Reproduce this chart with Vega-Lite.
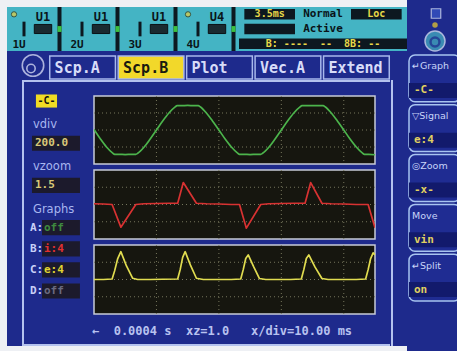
{
  "$schema": "https://vega.github.io/schema/vega-lite/v6.json",
  "background": "#1e2a8c",
  "padding": 0,
  "spacing": 0,
  "config": {"view": {"stroke": null}, "text": {"font": "DejaVu Sans"}, "concat": {"spacing": 0}},
  "datasets": {
    "gx": [{"t":10},{"t":20},{"t":30},{"t":40}],
    "gy": [{"v":-0.7},{"v":0},{"v":0.7}],
    "green": [
      {"t":0,"v":0.02},{"t":1,"v":-0.36},{"t":2,"v":-0.7},{"t":3,"v":-0.95},{"t":3.3,"v":-1.0},{"t":4,"v":-1.0},{"t":5,"v":-1.01},{"t":6,"v":-1.0},{"t":6.7,"v":-1.0},{"t":7,"v":-0.96},{"t":8,"v":-0.71},{"t":9,"v":-0.37},
      {"t":10,"v":0.0},{"t":11,"v":0.37},{"t":12,"v":0.7},{"t":13,"v":0.95},{"t":13.3,"v":1.0},{"t":14,"v":1.0},{"t":15,"v":1.01},{"t":16,"v":1.0},{"t":16.7,"v":1.0},{"t":17,"v":0.96},{"t":18,"v":0.7},{"t":19,"v":0.36},
      {"t":20,"v":0.0},{"t":21,"v":-0.37},{"t":22,"v":-0.7},{"t":23,"v":-0.95},{"t":23.3,"v":-1.0},{"t":24,"v":-1.0},{"t":25,"v":-1.01},{"t":26,"v":-1.0},{"t":26.7,"v":-1.0},{"t":27,"v":-0.96},{"t":28,"v":-0.71},{"t":29,"v":-0.37},
      {"t":30,"v":0.0},{"t":31,"v":0.37},{"t":32,"v":0.7},{"t":33,"v":0.95},{"t":33.3,"v":1.0},{"t":34,"v":1.0},{"t":35,"v":1.0},{"t":36,"v":1.0},{"t":36.7,"v":1.0},{"t":37,"v":0.96},{"t":38,"v":0.7},{"t":39,"v":0.36},
      {"t":40,"v":0.0},{"t":41,"v":-0.37},{"t":42,"v":-0.7},{"t":43,"v":-0.95},{"t":43.3,"v":-1.0},{"t":44,"v":-1.0},{"t":45,"v":-1.02}
    ],
    "red": [
      {"t":0,"v":0.03},{"t":1.5,"v":0.02},{"t":2.9,"v":0.0},{"t":4.3,"v":-0.92},{"t":6.7,"v":0.0},{"t":8,"v":0.03},{"t":10,"v":0.04},{"t":12,"v":0.05},{"t":13.4,"v":0.05},{"t":14.3,"v":0.89},{"t":16.4,"v":0.05},{"t":18,"v":0.03},{"t":20,"v":0.02},{"t":22,"v":0.0},
      {"t":23.3,"v":0.0},{"t":24.4,"v":-0.96},{"t":26.7,"v":0.0},{"t":28,"v":0.03},{"t":30,"v":0.04},{"t":32,"v":0.05},{"t":33.8,"v":0.05},{"t":34.7,"v":0.89},{"t":36.5,"v":0.05},{"t":38,"v":0.03},{"t":40,"v":0.02},{"t":42,"v":0.0},{"t":43.9,"v":0.0},{"t":45,"v":-0.94}
    ],
    "yellow": [
      {"t":0,"v":0.0},{"t":1.5,"v":0.0},{"t":2.9,"v":0.02},{"t":3.3,"v":0.35},{"t":3.8,"v":0.85},{"t":4.3,"v":1.13},{"t":5.2,"v":0.55},{"t":6.2,"v":0.05},{"t":7,"v":0.0},{"t":9,"v":0.0},{"t":11,"v":0.01},
      {"t":13.4,"v":0.02},{"t":13.8,"v":0.4},{"t":14.2,"v":0.9},{"t":14.6,"v":1.13},{"t":15.5,"v":0.55},{"t":16.4,"v":0.05},{"t":17.5,"v":0.0},{"t":20,"v":0.0},{"t":22,"v":0.0},
      {"t":23.5,"v":0.02},{"t":23.9,"v":0.4},{"t":24.3,"v":0.85},{"t":24.7,"v":1.0},{"t":25.6,"v":0.5},{"t":26.5,"v":0.04},{"t":27.5,"v":0.0},{"t":30,"v":0.0},{"t":31.5,"v":0.0},
      {"t":33.2,"v":0.02},{"t":33.6,"v":0.4},{"t":34.0,"v":0.85},{"t":34.4,"v":1.0},{"t":35.4,"v":0.5},{"t":36.5,"v":0.04},{"t":37.5,"v":0.0},{"t":40,"v":0.0},{"t":42,"v":0.0},
      {"t":43.5,"v":0.02},{"t":43.9,"v":0.4},{"t":44.3,"v":0.85},{"t":44.7,"v":1.08},{"t":45,"v":1.0}
    ]
  },
  "hconcat": [
    {"width": 7, "height": 351, "data": {"values": [{}]}, "mark": {"type": "point", "size": 0, "strokeWidth": 0, "opacity": 0}, "encoding": {}, "view": {"fill": "#eef0f4"}},
    {
      "vconcat": [
        {"width": 400, "height": 7, "data": {"values": [{}]}, "mark": {"type": "point", "size": 0, "strokeWidth": 0, "opacity": 0}, "encoding": {}, "view": {"fill": "#eef0f4"}},
        {
          "hconcat": [
            {
              "width": 232, "height": 44, "view": {"fill": "#44b4c4"},
              "data": {"values": [{"ch":"1","label":"U1","num":"1U"},{"ch":"2","label":"U1","num":"2U"},{"ch":"3","label":"U1","num":"3U"},{"ch":"4","label":"U4","num":"4U"}]},
              "encoding": {"x": {"field": "ch", "type": "nominal", "scale": {"domain": ["1","2","3","4"], "paddingInner": 0, "paddingOuter": 0}, "axis": null}},
              "layer": [
                {"mark": {"type": "bar", "width": 4, "xOffset": 23.5, "color": "#0d1820"}},
                {"mark": {"type": "bar", "width": 4, "xOffset": 23.5, "height": {"band": 0.4}, "color": "#3cc040"},
                 "encoding": {"y": {"datum": "mid", "type": "nominal", "scale": {"domain": ["top","mid","bot"], "paddingInner": 0, "paddingOuter": 0}, "axis": null}}},
                {"mark": {"type": "bar", "width": 3, "xOffset": -12, "height": {"band": 1}, "color": "#0d1820"},
                 "encoding": {"y": {"datum": "mid", "type": "nominal", "scale": {"domain": ["top","mid","bot"], "paddingInner": 0, "paddingOuter": 0}, "axis": null}}},
                {"mark": {"type": "bar", "width": {"band": 0.3}, "xOffset": 7, "height": {"band": 0.62}, "color": "#1a2a30", "stroke": "#0a1216"},
                 "encoding": {"y": {"datum": "mid", "type": "nominal", "scale": {"domain": ["top","mid","bot"], "paddingInner": 0, "paddingOuter": 0}, "axis": null}}},
                {"mark": {"type": "text", "dx": 7, "dy": 3, "font": "DejaVu Sans Mono", "fontWeight": "bold", "fontSize": 12, "color": "#0a1418"},
                 "encoding": {"text": {"field": "label"}, "y": {"datum": "top", "type": "nominal", "scale": {"domain": ["top","mid","bot"], "paddingInner": 0, "paddingOuter": 0}, "axis": null}}},
                {"mark": {"type": "text", "dx": -17, "dy": 1, "font": "DejaVu Sans Mono", "fontWeight": "bold", "fontSize": 11, "color": "#0a1418"},
                 "encoding": {"text": {"field": "num"}, "y": {"datum": "bot", "type": "nominal", "scale": {"domain": ["top","mid","bot"], "paddingInner": 0, "paddingOuter": 0}, "axis": null}}},
                {"transform": [{"filter": "datum.ch === '1' || datum.ch === '4'"}],
                 "mark": {"type": "point", "shape": "circle", "filled": true, "size": 28, "xOffset": -22, "color": "#e8d040", "stroke": "#303010", "strokeWidth": 1},
                 "encoding": {"y": {"datum": "top", "type": "nominal", "scale": {"domain": ["top","mid","bot"], "paddingInner": 0, "paddingOuter": 0}, "axis": null}}}
              ]
            },
            {
              "width": 168, "height": 44, "view": {"fill": "#44b4c4"},
              "layer": [
                {"data": {"values": [{"slot":"a","row":"top"},{"slot":"a","row":"mid"},{"slot":"c","row":"top"}]},
                 "mark": {"type": "bar", "height": {"band": 0.72}, "color": "#0d1820"},
                 "encoding": {"x": {"field": "slot", "type": "nominal", "scale": {"domain": ["a","b","c"], "paddingInner": 0.05, "paddingOuter": 0.1}, "axis": null},
                              "y": {"field": "row", "type": "nominal", "scale": {"domain": ["top","mid","bot"], "paddingInner": 0, "paddingOuter": 0}, "axis": null}}},
                {"data": {"values": [{"row":"bot"}]},
                 "mark": {"type": "bar", "height": {"band": 0.72}, "color": "#0d1820"},
                 "encoding": {"y": {"field": "row", "type": "nominal", "scale": {"domain": ["top","mid","bot"], "paddingInner": 0, "paddingOuter": 0}, "axis": null}}},
                {"data": {"values": [{"slot":"a","row":"top","text":"3.5ms"},{"slot":"c","row":"top","text":"Loc"}]},
                 "mark": {"type": "text", "font": "DejaVu Sans Mono", "fontWeight": "bold", "fontSize": 10, "color": "#e8d848"},
                 "encoding": {"text": {"field": "text"},
                              "x": {"field": "slot", "type": "nominal", "scale": {"domain": ["a","b","c"], "paddingInner": 0.05, "paddingOuter": 0.1}, "axis": null},
                              "y": {"field": "row", "type": "nominal", "scale": {"domain": ["top","mid","bot"], "paddingInner": 0, "paddingOuter": 0}, "axis": null}}},
                {"data": {"values": [{"slot":"b","row":"top","text":"Normal"},{"slot":"b","row":"mid","text":"Active"}]},
                 "mark": {"type": "text", "font": "DejaVu Sans Mono", "fontWeight": "bold", "fontSize": 11, "color": "#0a1418"},
                 "encoding": {"text": {"field": "text"},
                              "x": {"field": "slot", "type": "nominal", "scale": {"domain": ["a","b","c"], "paddingInner": 0.05, "paddingOuter": 0.1}, "axis": null},
                              "y": {"field": "row", "type": "nominal", "scale": {"domain": ["top","mid","bot"], "paddingInner": 0, "paddingOuter": 0}, "axis": null}}},
                {"data": {"values": [{"row":"bot","text":"B: ----\u00a0\u00a0--\u00a0\u00a08B: --"}]},
                 "mark": {"type": "text", "font": "DejaVu Sans Mono", "fontWeight": "bold", "fontSize": 10, "color": "#e8d848"},
                 "encoding": {"text": {"field": "text"},
                              "y": {"field": "row", "type": "nominal", "scale": {"domain": ["top","mid","bot"], "paddingInner": 0, "paddingOuter": 0}, "axis": null}}}
              ]
            }
          ],
          "spacing": 0
        },
        {
          "hconcat": [
            {"width": 40, "height": 29, "data": {"values": [{}]},
             "layer": [
               {"mark": {"type": "point", "shape": "circle", "size": 460, "filled": false, "stroke": "#e8ecff", "strokeWidth": 1.6, "xOffset": 6}, "encoding": {}},
               {"mark": {"type": "point", "shape": "circle", "size": 70, "filled": false, "stroke": "#e8ecff", "strokeWidth": 1.6, "xOffset": 4, "yOffset": 3}, "encoding": {}}
             ]},
            {
              "vconcat": [
                {"width": 345, "height": 4, "data": {"values": [{}]}, "mark": {"type": "point", "size": 0, "strokeWidth": 0, "opacity": 0}, "encoding": {}},
                {
                  "width": 345, "height": 25,
                  "data": {"values": [{"tab":"Scp.A"},{"tab":"Scp.B"},{"tab":"Plot"},{"tab":"Vec.A"},{"tab":"Extend"}]},
                  "encoding": {"x": {"field": "tab", "type": "nominal", "sort": null, "scale": {"domain": ["Scp.A","Scp.B","Plot","Vec.A","Extend"], "paddingInner": 0.04, "paddingOuter": 0.04}, "axis": null},
                               "y": {"datum": "tab", "type": "nominal", "scale": {"domain": ["tab"], "paddingInner": 0, "paddingOuter": 0.04}, "axis": null}},
                  "layer": [
                    {"mark": {"type": "bar", "stroke": "#a8b8ec", "strokeWidth": 1.5},
                     "encoding": {"color": {"condition": {"test": "datum.tab === 'Scp.B'", "value": "#f2d82a"}, "value": "#1e2a8c"}}},
                    {"mark": {"type": "text", "align": "left", "dx": -28, "font": "DejaVu Sans Mono", "fontWeight": "bold", "fontSize": 15},
                     "encoding": {"text": {"field": "tab"}, "color": {"condition": {"test": "datum.tab === 'Scp.B'", "value": "#1a1a10"}, "value": "#d8dcf8"}}}
                  ]
                }
              ],
              "spacing": 0
            },
            {"width": 15, "height": 29, "data": {"values": [{}]}, "mark": {"type": "point", "size": 0, "strokeWidth": 0, "opacity": 0}, "encoding": {}}
          ],
          "spacing": 0
        },
        {
          "hconcat": [
            {"width": 15, "height": 266, "data": {"values": [{}]}, "mark": {"type": "point", "size": 0, "strokeWidth": 0, "opacity": 0}, "encoding": {}},
            {"width": 2, "height": 266, "data": {"values": [{}]}, "mark": {"type": "point", "size": 0, "strokeWidth": 0, "opacity": 0}, "encoding": {}, "view": {"fill": "#b4c2ee"}},
            {
              "vconcat": [
                {"width": 366, "height": 2, "data": {"values": [{}]}, "mark": {"type": "point", "size": 0, "strokeWidth": 0, "opacity": 0}, "encoding": {}, "view": {"fill": "#b4c2ee"}},
                {
                  "hconcat": [
                    {
                      "width": 69, "height": 236,
                      "layer": [
                        {"data": {"values": [{"row":"r0","text":"-C-"}]},
                         "mark": {"type": "bar", "width": {"band": 0.44}, "height": {"band": 0.62}, "xOffset": -9.5, "color": "#f0dc24"},
                         "encoding": {"x": {"datum": "main", "type": "nominal", "scale": {"domain": ["main"], "paddingInner": 0, "paddingOuter": 0.219, "align": 0.38}, "axis": null},
                                      "y": {"field": "row", "type": "nominal", "scale": {"domain": ["r0","r1","r2","r3","r4","r5","r6","r7","r8","r9"], "paddingInner": 0, "paddingOuter": 0.59, "align": 0.34}, "axis": null}}},
                        {"data": {"values": [{"row":"r0","text":"-C-"}]},
                         "mark": {"type": "text", "dx": -9.5, "font": "DejaVu Sans Mono", "fontWeight": "bold", "fontSize": 10, "color": "#101010"},
                         "encoding": {"text": {"field": "text"},
                                      "x": {"datum": "main", "type": "nominal", "scale": {"domain": ["main"], "paddingInner": 0, "paddingOuter": 0.219, "align": 0.38}, "axis": null},
                                      "y": {"field": "row", "type": "nominal", "scale": {"domain": ["r0","r1","r2","r3","r4","r5","r6","r7","r8","r9"], "paddingInner": 0, "paddingOuter": 0.59, "align": 0.34}, "axis": null}}},
                        {"data": {"values": [{"row":"r1","text":"vdiv"},{"row":"r3","text":"vzoom"},{"row":"r5","text":"Graphs"}]},
                         "mark": {"type": "text", "align": "left", "dx": -23, "dy": 3, "fontSize": 11.5, "color": "#a8b6f0"},
                         "encoding": {"text": {"field": "text"},
                                      "x": {"datum": "main", "type": "nominal", "scale": {"domain": ["main"], "paddingInner": 0, "paddingOuter": 0.219, "align": 0.38}, "axis": null},
                                      "y": {"field": "row", "type": "nominal", "scale": {"domain": ["r0","r1","r2","r3","r4","r5","r6","r7","r8","r9"], "paddingInner": 0, "paddingOuter": 0.59, "align": 0.34}, "axis": null}}},
                        {"data": {"values": [{"row":"r2","text":"200.0"},{"row":"r4","text":"1.5"}]},
                         "mark": {"type": "bar", "height": {"band": 0.72}, "color": "#1c1a2c"},
                         "encoding": {"x": {"datum": "main", "type": "nominal", "scale": {"domain": ["main"], "paddingInner": 0, "paddingOuter": 0.219, "align": 0.38}, "axis": null},
                                      "y": {"field": "row", "type": "nominal", "scale": {"domain": ["r0","r1","r2","r3","r4","r5","r6","r7","r8","r9"], "paddingInner": 0, "paddingOuter": 0.59, "align": 0.34}, "axis": null}}},
                        {"data": {"values": [{"row":"r2","text":"200.0"},{"row":"r4","text":"1.5"}]},
                         "mark": {"type": "text", "align": "left", "dx": -21, "font": "DejaVu Sans Mono", "fontWeight": "bold", "fontSize": 11, "color": "#d8c878"},
                         "encoding": {"text": {"field": "text"},
                                      "x": {"datum": "main", "type": "nominal", "scale": {"domain": ["main"], "paddingInner": 0, "paddingOuter": 0.219, "align": 0.38}, "axis": null},
                                      "y": {"field": "row", "type": "nominal", "scale": {"domain": ["r0","r1","r2","r3","r4","r5","r6","r7","r8","r9"], "paddingInner": 0, "paddingOuter": 0.59, "align": 0.34}, "axis": null}}},
                        {"data": {"values": [{"row":"r6","key":"A:","val":"off","ch":"A"},{"row":"r7","key":"B:","val":"i:4","ch":"B"},{"row":"r8","key":"C:","val":"e:4","ch":"C"},{"row":"r9","key":"D:","val":"off","ch":"D"}]},
                         "mark": {"type": "bar", "width": {"band": 0.79}, "height": {"band": 0.72}, "xOffset": 5, "color": "#1c1a2c"},
                         "encoding": {"x": {"datum": "main", "type": "nominal", "scale": {"domain": ["main"], "paddingInner": 0, "paddingOuter": 0.219, "align": 0.38}, "axis": null},
                                      "y": {"field": "row", "type": "nominal", "scale": {"domain": ["r0","r1","r2","r3","r4","r5","r6","r7","r8","r9"], "paddingInner": 0, "paddingOuter": 0.59, "align": 0.34}, "axis": null}}},
                        {"data": {"values": [{"row":"r6","key":"A:","val":"off","ch":"A"},{"row":"r7","key":"B:","val":"i:4","ch":"B"},{"row":"r8","key":"C:","val":"e:4","ch":"C"},{"row":"r9","key":"D:","val":"off","ch":"D"}]},
                         "mark": {"type": "text", "align": "left", "dx": -26, "font": "DejaVu Sans Mono", "fontWeight": "bold", "fontSize": 11, "color": "#c8d0f8"},
                         "encoding": {"text": {"field": "key"},
                                      "x": {"datum": "main", "type": "nominal", "scale": {"domain": ["main"], "paddingInner": 0, "paddingOuter": 0.219, "align": 0.38}, "axis": null},
                                      "y": {"field": "row", "type": "nominal", "scale": {"domain": ["r0","r1","r2","r3","r4","r5","r6","r7","r8","r9"], "paddingInner": 0, "paddingOuter": 0.59, "align": 0.34}, "axis": null}}},
                        {"data": {"values": [{"row":"r6","key":"A:","val":"off","ch":"A"},{"row":"r7","key":"B:","val":"i:4","ch":"B"},{"row":"r8","key":"C:","val":"e:4","ch":"C"},{"row":"r9","key":"D:","val":"off","ch":"D"}]},
                         "mark": {"type": "text", "align": "left", "dx": -12, "font": "DejaVu Sans Mono", "fontWeight": "bold", "fontSize": 11},
                         "encoding": {"text": {"field": "val"},
                                      "color": {"field": "ch", "type": "nominal", "scale": {"domain": ["A","B","C","D"], "range": ["#3f8a3f","#e03030","#e0d430","#6a6a80"]}, "legend": null},
                                      "x": {"datum": "main", "type": "nominal", "scale": {"domain": ["main"], "paddingInner": 0, "paddingOuter": 0.219, "align": 0.38}, "axis": null},
                                      "y": {"field": "row", "type": "nominal", "scale": {"domain": ["r0","r1","r2","r3","r4","r5","r6","r7","r8","r9"], "paddingInner": 0, "paddingOuter": 0.59, "align": 0.34}, "axis": null}}}
                      ]
                    },
                    {
                      "vconcat": [
                        {"width": 284, "height": 9, "data": {"values": [{}]}, "mark": {"type": "point", "size": 0, "strokeWidth": 0, "opacity": 0}, "encoding": {}},
                        {
                          "width": 281, "height": 68,
                          "view": {"fill": "#16160f", "stroke": "#c8ccd8", "strokeWidth": 1.5},
                          "layer": [
                            {"data": {"name": "gx"}, "mark": {"type": "rule", "color": "#76765c", "strokeDash": [1, 3], "clip": true},
                             "encoding": {"x": {"field": "t", "type": "quantitative", "scale": {"domain": [0, 45], "nice": false, "zero": false}, "axis": null}}},
                            {"data": {"name": "gy"}, "mark": {"type": "rule", "color": "#76765c", "strokeDash": [1, 3], "clip": true},
                             "encoding": {"y": {"field": "v", "type": "quantitative", "scale": {"domain": [-1.4, 1.4], "nice": false}, "axis": null}}},
                            {"data": {"name": "green"}, "mark": {"type": "line", "color": "#4cb44c", "strokeWidth": 1.7, "interpolate": "monotone", "strokeJoin": "round", "clip": true},
                             "encoding": {"x": {"field": "t", "type": "quantitative", "axis": null}, "y": {"field": "v", "type": "quantitative", "axis": null}}}
                          ]
                        },
                        {
                          "width": 281, "height": 69,
                          "view": {"fill": "#16160f", "stroke": "#c8ccd8", "strokeWidth": 1.5},
                          "layer": [
                            {"data": {"name": "gx"}, "mark": {"type": "rule", "color": "#76765c", "strokeDash": [1, 3], "clip": true},
                             "encoding": {"x": {"field": "t", "type": "quantitative", "scale": {"domain": [0, 45], "nice": false, "zero": false}, "axis": null}}},
                            {"data": {"name": "gy"}, "mark": {"type": "rule", "color": "#76765c", "strokeDash": [1, 3], "clip": true},
                             "encoding": {"y": {"field": "v", "type": "quantitative", "scale": {"domain": [-1.4, 1.4], "nice": false}, "axis": null}}},
                            {"data": {"name": "red"}, "mark": {"type": "line", "color": "#d83232", "strokeWidth": 1.7, "strokeJoin": "round", "clip": true},
                             "encoding": {"x": {"field": "t", "type": "quantitative", "axis": null}, "y": {"field": "v", "type": "quantitative", "axis": null}}}
                          ]
                        },
                        {
                          "width": 281, "height": 69,
                          "view": {"fill": "#16160f", "stroke": "#c8ccd8", "strokeWidth": 1.5},
                          "layer": [
                            {"data": {"name": "gx"}, "mark": {"type": "rule", "color": "#76765c", "strokeDash": [1, 3], "clip": true},
                             "encoding": {"x": {"field": "t", "type": "quantitative", "scale": {"domain": [0, 45], "nice": false, "zero": false}, "axis": null}}},
                            {"data": {"name": "gy"}, "mark": {"type": "rule", "color": "#76765c", "strokeDash": [1, 3], "clip": true},
                             "encoding": {"y": {"field": "v", "type": "quantitative", "scale": {"domain": [-1.4, 1.4], "nice": false}, "axis": null}}},
                            {"data": {"name": "yellow"}, "mark": {"type": "line", "color": "#e0dc50", "strokeWidth": 1.7, "strokeJoin": "round", "clip": true},
                             "encoding": {"x": {"field": "t", "type": "quantitative", "axis": null}, "y": {"field": "v", "type": "quantitative", "axis": null}}}
                          ]
                        }
                      ],
                      "spacing": 4
                    },
                    {"width": 13, "height": 236, "data": {"values": [{}]}, "mark": {"type": "point", "size": 0, "strokeWidth": 0, "opacity": 0}, "encoding": {}}
                  ],
                  "spacing": 0
                },
                {"width": 366, "height": 26, "data": {"values": [{"text": "←\u00a0\u00a00.0004 s\u00a0\u00a0xz=1.0\u00a0\u00a0\u00a0x/div=10.00 ms"}]},
                 "mark": {"type": "text", "align": "left", "dx": -115, "font": "DejaVu Sans Mono", "fontWeight": "bold", "fontSize": 12, "color": "#b8c2f0"},
                 "encoding": {"text": {"field": "text"}}},
                {"width": 366, "height": 2, "data": {"values": [{}]}, "mark": {"type": "point", "size": 0, "strokeWidth": 0, "opacity": 0}, "encoding": {}, "view": {"fill": "#b4c2ee"}}
              ],
              "spacing": 0
            },
            {"width": 2, "height": 266, "data": {"values": [{}]}, "mark": {"type": "point", "size": 0, "strokeWidth": 0, "opacity": 0}, "encoding": {}, "view": {"fill": "#b4c2ee"}},
            {"width": 15, "height": 266, "data": {"values": [{}]}, "mark": {"type": "point", "size": 0, "strokeWidth": 0, "opacity": 0}, "encoding": {}}
          ],
          "spacing": 0
        },
        {"width": 400, "height": 5, "data": {"values": [{}]}, "mark": {"type": "point", "size": 0, "strokeWidth": 0, "opacity": 0}, "encoding": {}, "view": {"fill": "#eef0f4"}}
      ],
      "spacing": 0
    },
    {
      "vconcat": [
        {"width": 50, "height": 53, "data": {"values": [{}]},
         "layer": [
           {"mark": {"type": "point", "shape": "square", "size": 90, "filled": true, "color": "#3a58c8", "stroke": "#e8f0ff", "strokeWidth": 1.2, "xOffset": 2, "yOffset": -13}, "encoding": {}},
           {"mark": {"type": "point", "shape": "circle", "size": 30, "filled": true, "color": "#f0d028", "xOffset": 1, "yOffset": -1.5}, "encoding": {}},
           {"mark": {"type": "point", "shape": "circle", "size": 400, "filled": true, "color": "#46b4c4", "stroke": "#e8f4ff", "strokeWidth": 1.5, "xOffset": 1, "yOffset": 14.5}, "encoding": {}},
           {"mark": {"type": "point", "shape": "circle", "size": 80, "filled": false, "stroke": "#1e2a8c", "strokeWidth": 2.5, "xOffset": 1, "yOffset": 15.5}, "encoding": {}}
         ]},
        {
          "width": 50, "height": 248,
          "data": {"values": [{"btn":"b1","label":"↵Graph","value":"-C-"},{"btn":"b2","label":"▽Signal","value":"e:4"},{"btn":"b3","label":"◎Zoom","value":"-x-"},{"btn":"b4","label":"\u00a0\u00a0Move","value":"vin"},{"btn":"b5","label":"↵Split","value":"on"}]},
          "encoding": {"y": {"field": "btn", "type": "nominal", "scale": {"domain": ["b1","b2","b3","b4","b5"], "paddingInner": 0.06, "paddingOuter": 0.02}, "axis": null}},
          "layer": [
            {"mark": {"type": "bar", "cornerRadius": 6, "color": "#1f2c92", "stroke": "#a8c4f0", "strokeWidth": 1.5, "xOffset": 1}},
            {"mark": {"type": "bar", "height": {"band": 0.32}, "yOffset": 12, "xOffset": 4, "color": "#121a6c"}},
            {"mark": {"type": "text", "align": "left", "dx": -22, "dy": -12, "fontSize": 9.5, "color": "#c8d4f8"}, "encoding": {"text": {"field": "label"}}},
            {"mark": {"type": "text", "align": "left", "dx": -20, "dy": 12, "font": "DejaVu Sans Mono", "fontWeight": "bold", "fontSize": 11, "color": "#e0d060"}, "encoding": {"text": {"field": "value"}}}
          ]
        },
        {"width": 50, "height": 50, "data": {"values": [{}]}, "mark": {"type": "point", "size": 0, "strokeWidth": 0, "opacity": 0}, "encoding": {}}
      ],
      "spacing": 0
    }
  ]
}
